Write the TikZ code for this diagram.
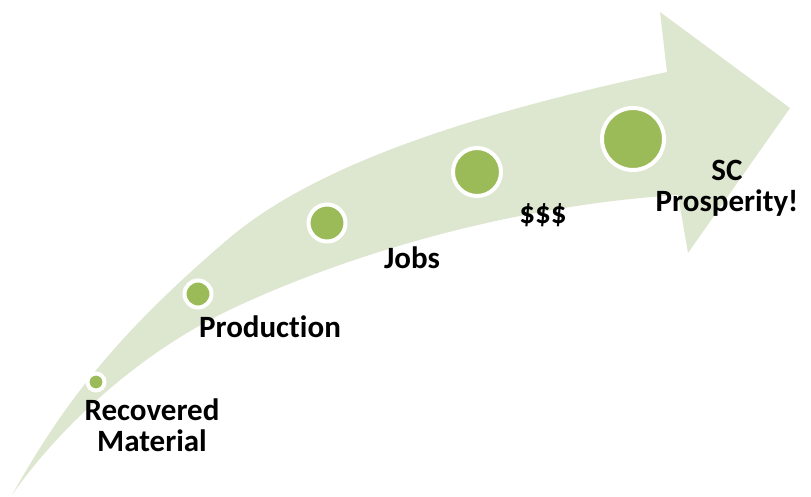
\documentclass[tikz,border=0pt]{standalone}
\usepackage{fontspec}
\setmainfont{Carlito}[Ligatures=NoCommon]
\usepackage{tikz}
\usetikzlibrary{calc,positioning}
\definecolor{bandgreen}{RGB}{221,231,208}
\definecolor{dotgreen}{RGB}{155,187,89}
\tikzset{
	bubble/.style={
		circle,
		fill=dotgreen,
		draw=white,
		line width=4pt,
		inner sep=0pt
	},
	stage/.style={
		align=center,
		inner sep=0pt,
		font=\bfseries\fontsize{31}{31}\selectfont
	}
}

\begin{document}
\begin{tikzpicture}[x=1pt, y=-1pt]
		\useasboundingbox (0,0) rectangle (811,496);

		% the bent arrow
		\fill[bandgreen] (12,495) .. controls (60,410) and (110,340) .. (227,240)
			.. controls (320,160) and (490,110) .. (667,72)
			-- (660,12) -- (790,108) -- (688,253) -- (678,195)
			.. controls (520,205) and (360,250) .. (240,305)
			.. controls (130,355) and (50,440) .. (12,495) -- cycle;

		\node [bubble, minimum size=17pt] (dot-material) at (96,382) {};
		\node [bubble, minimum size=27pt] (dot-production) at (198,294) {};
		\node [bubble, minimum size=37pt] (dot-jobs) at (327,223) {};
		\node [bubble, minimum size=48pt] (dot-money) at (477,172) {};
		\node [bubble, minimum size=62pt] (dot-prosperity) at (633,139) {};

		\node [stage] (material) at (152,425) {Recovered\\Material};
		\node [stage] (production) at (270,327) {Production};
		\node [stage] (jobs) at (412,258) {Jobs};
		\node [stage] (money) at (543,215) {\$\$\$};
		\node [stage] (prosperity) at (727,188) {SC\\Prosperity!};
	\end{tikzpicture}
\end{document}
